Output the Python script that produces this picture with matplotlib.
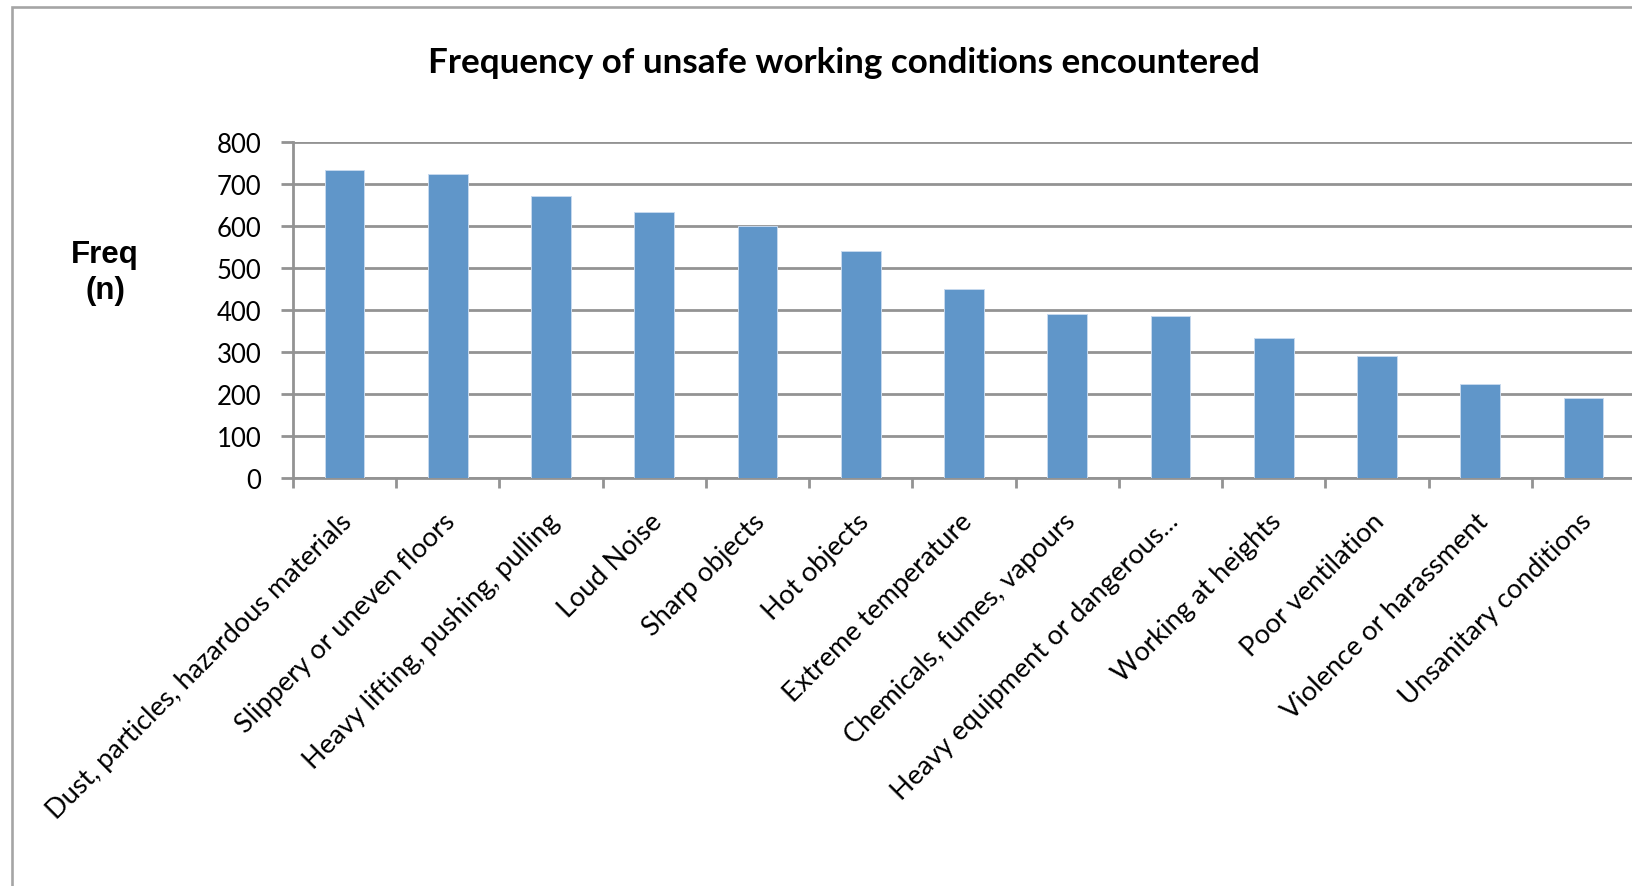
import numpy as np
import matplotlib
matplotlib.use("Agg")
import matplotlib.pyplot as plt
import matplotlib.patches as patches
from matplotlib.transforms import ScaledTranslation

# Survey counts per hazard type
conditions = [
    "Dust, particles, hazardous materials",
    "Slippery or uneven floors",
    "Heavy lifting, pushing, pulling",
    "Loud Noise",
    "Sharp objects",
    "Hot objects",
    "Extreme temperature",
    "Chemicals, fumes, vapours",
    "Heavy equipment or dangerous...",
    "Working at heights",
    "Poor ventilation",
    "Violence or harassment",
    "Unsanitary conditions",
]
freq = [733, 724, 671, 633, 601, 540, 449, 391, 386, 334, 291, 224, 191]
y_ticks = [0, 100, 200, 300, 400, 500, 600, 700, 800]

W, H = 1633, 887
grey = "#939393"
bar_blue = "#6096c9"

fig = plt.figure(figsize=(W / 100, H / 100), dpi=100)
fig.patch.set_facecolor("white")

# outer chart border (only left and top edges fall inside the image)
frame = patches.Rectangle((12 / W, -0.2), 2.0, 1.2 - 8 / H, transform=fig.transFigure,
                          fill=False, edgecolor="#a5a5a5", linewidth=1.9)
fig.add_artist(frame)

ax = fig.add_axes([293 / W, (H - 478.7) / H, 1342 / W, 335.7 / H])
n = len(conditions)
centers = np.arange(n) + 0.5
ax.bar(centers, freq, width=0.385, color=bar_blue, edgecolor="#c6d9ee",
       linewidth=0.7, zorder=3)

ax.set_xlim(0, n)
ax.set_ylim(0, 800)
ax.set_yticks(y_ticks)
ax.set_yticklabels([str(v) for v in y_ticks], fontsize=18.5, family="Lato")
ax.yaxis.grid(True, color=grey, linewidth=2.0, zorder=0)
ax.set_axisbelow(True)
ax.tick_params(axis="y", length=8.6, width=2.0, color=grey, pad=14)

# boundary ticks between categories, labels sit at the bar centres
ax.set_xticks(np.arange(n + 1))
ax.set_xticklabels([])
ax.tick_params(axis="x", which="major", length=7, width=2.0, color=grey)
ax.set_xticks(centers, minor=True)
ax.set_xticklabels(conditions, minor=True, fontsize=19.5, family="Lato")
ax.tick_params(axis="x", which="minor", length=0, pad=22)
shift = ScaledTranslation(-5 / 100, 0, fig.dpi_scale_trans)
for lab in ax.get_xticklabels(minor=True):
    lab.set_rotation(45)
    lab.set_ha("right")
    lab.set_va("top")
    lab.set_rotation_mode("anchor")
    lab.set_transform(lab.get_transform() + shift)

for side in ["top", "right"]:
    ax.spines[side].set_visible(False)
for side in ["left", "bottom"]:
    ax.spines[side].set_color(grey)
    ax.spines[side].set_linewidth(2.0)

fig.text(844 / W, 1 - 63 / H, "Frequency of unsafe working conditions encountered",
         ha="center", va="center", fontsize=25.2, fontweight="bold", family="Lato")
fig.text(105 / W, 1 - 273 / H, "Freq\n(n)", ha="center", va="center", fontsize=22.5,
         fontweight="bold", family="Liberation Sans", linespacing=1.25)

fig.savefig("out.png", dpi=100)
